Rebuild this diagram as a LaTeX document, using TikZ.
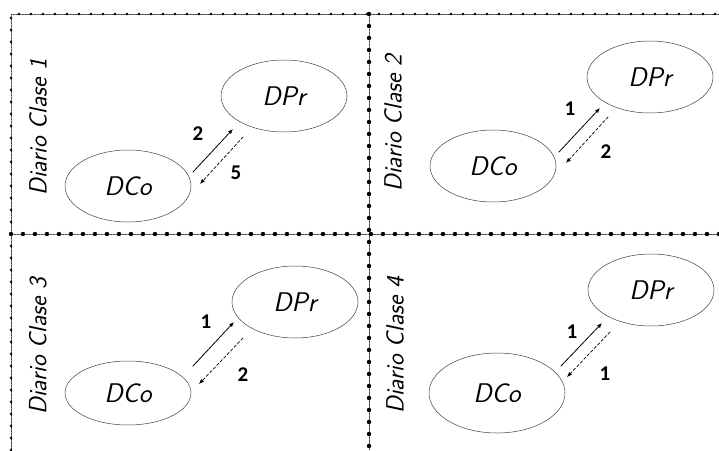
\documentclass[tikz,border=0pt]{standalone}
\usepackage{fontspec}
\newfontfamily\numfont{Carlito}
\usetikzlibrary{arrows.meta,shapes.geometric,decorations.markings}

\begin{document}
\begin{tikzpicture}[x=1pt,y=-1pt,line cap=round,line join=round,
  diary/.style={draw=black!75,line width=.5pt,ellipse,inner sep=0pt,
    minimum width=126pt,minimum height=72pt,
    font=\sffamily\slshape\fontsize{27}{30}\selectfont},
  title/.style={rotate=90,font=\sffamily\slshape\fontsize{25}{28}\selectfont},
  count/.style={font=\numfont\bfseries\fontsize{21}{24}\selectfont},
  sent/.style={line width=.8pt,-{Latex[length=5pt,width=4pt]}},
  back/.style={line width=.7pt,densely dashed,-{Latex[length=5pt,width=4pt]}},
  beads/.style={densely dotted,line width=.5pt,postaction={decorate},
    decoration={markings,mark=between positions 0 and 1 step 12pt with
      {\fill (0,0) circle (#1);}}},
  beads/.default=1.4pt]
  \useasboundingbox (0,0) rectangle (719,450);

  % frame and dividers
  \draw[beads] (11,450) -- (11,14) -- (719,14);
  \draw[beads=2.2pt] (369,14) -- (369,450);
  \draw[beads=2.2pt] (11,234) -- (719,234);

  % Diario Clase 1
  \node[title] (t1) at (38,127) {Diario Clase 1};
  \node[diary] (dpr1) at (284,96) {DPr};
  \node[diary] (dco1) at (128,186) {DCo};
  \coordinate (a1) at (193,172);
  \coordinate (b1) at (233,129);
  \coordinate (c1) at (243,137);
  \coordinate (d1) at (200,184);
  \draw[sent] (a1) -- (b1);
  \draw[back] (c1) -- (d1);
  \node[count] (m1) at (198,134) {2};
  \node[count] (k1) at (236,173) {5};

  % Diario Clase 2
  \node[title] (t2) at (393,123) {Diario Clase 2};
  \node[diary] (dpr2) at (650,77) {DPr};
  \node[diary] (dco2) at (493,166) {DCo};
  \coordinate (a2) at (559,152);
  \coordinate (b2) at (600,108);
  \coordinate (c2) at (608,117);
  \coordinate (d2) at (566,163);
  \draw[sent] (a2) -- (b2);
  \draw[back] (c2) -- (d2);
  \node[count] (m2) at (570,109) {1};
  \node[count] (k2) at (606,152) {2};

  % Diario Clase 3
  \node[title] (t3) at (38,346) {Diario Clase 3};
  \node[diary] (dpr3) at (295,302) {DPr};
  \node[diary,minimum height=64pt] (dco3) at (128,393) {DCo};
  \coordinate (a3) at (193,366);
  \coordinate (b3) at (234,322);
  \coordinate (c3) at (243,338);
  \coordinate (d3) at (199,384);
  \draw[sent] (a3) -- (b3);
  \draw[back] (c3) -- (d3);
  \node[count] (m3) at (206,322) {1};
  \node[count] (k3) at (243,375) {2};

  % Diario Clase 4
  \node[title] (t4) at (395,345) {Diario Clase 4};
  \node[diary] (dpr4) at (651,290) {DPr};
  \node[diary,minimum width=136pt,minimum height=80pt] (dco4) at (497,393) {DCo};
  \coordinate (a4) at (561,366);
  \coordinate (b4) at (602,323);
  \coordinate (c4) at (610,332);
  \coordinate (d4) at (567,377);
  \draw[sent] (a4) -- (b4);
  \draw[back] (c4) -- (d4);
  \node[count] (m4) at (572,332) {1};
  \node[count] (k4) at (605,374) {1};
\end{tikzpicture}
\end{document}
